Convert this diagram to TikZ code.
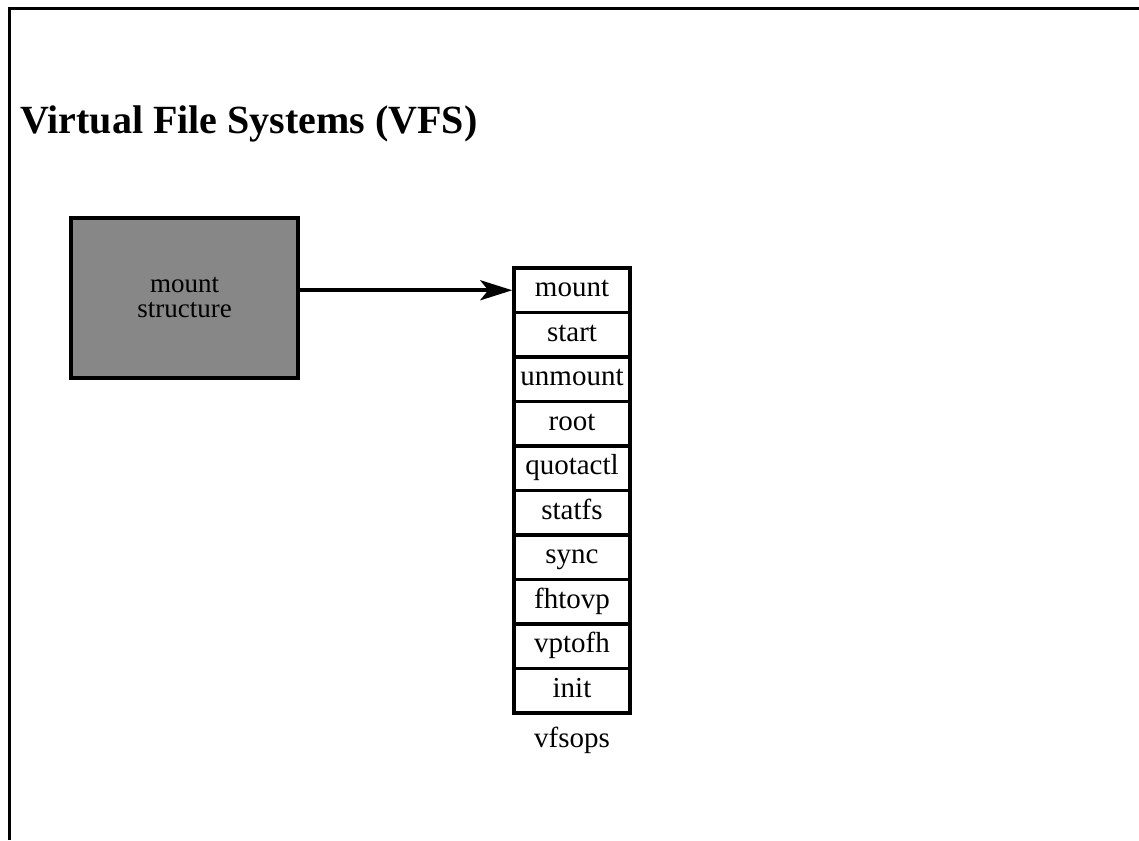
\documentclass[tikz,border=0pt]{standalone}
\usepackage{fontspec}
\setmainfont{Liberation Serif}
\usetikzlibrary{arrows.meta}
\begin{document}
\begin{tikzpicture}[x=1pt,y=-1pt,
  opbox/.style={draw=black,line width=3.5pt,minimum width=116pt,minimum height=44.5pt,inner sep=0pt,text height=19pt,text depth=6pt,font=\fontsize{29}{31}\selectfont},
  structbox/.style={draw=black,line width=4pt,fill=black!47,minimum width=227pt,minimum height=160pt,inner sep=0pt,align=center,font=\fontsize{27}{25}\selectfont},
  conn/.style={line width=4pt,-{Stealth[length=32pt,width=20pt,inset=8pt]}}]
\useasboundingbox (0,0) rectangle (1139,840);
\fill[white] (0,0) rectangle (1139,840);
\coordinate (fbl) at (9,840);
\coordinate (ftl) at (9,9);
\coordinate (ftr) at (1139,9);
\draw[line width=3pt] (fbl) -- (ftl) -- (ftr);
\node[anchor=base west,font=\fontsize{40}{40}\selectfont\bfseries,inner sep=0pt] (title) at (20,133) {Virtual File Systems (VFS)};
\node[structbox] (ms) at (184.5,298) {mount\\structure};
\foreach \i/\t in {1/mount,2/start,3/unmount,4/root,5/quotactl,6/statfs,7/sync,8/fhtovp,9/vptofh,10/init}{
  \node[opbox] (r\i) at (572,{268+44.5*(\i-0.5)}) {\t};
}
\node[font=\fontsize{29}{31}\selectfont,anchor=north,inner sep=0pt] (lbl) at ([yshift=-12pt]r10.south) {vfsops};
\draw[conn] (ms.east |- r1.west) -- (r1.west);
\end{tikzpicture}
\end{document}
